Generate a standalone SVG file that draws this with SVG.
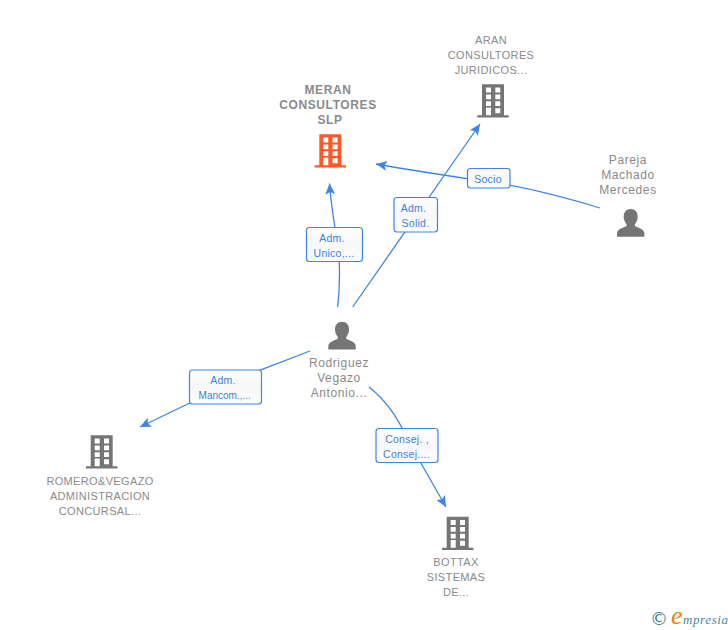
<svg xmlns="http://www.w3.org/2000/svg" width="728" height="630" viewBox="0 0 728 630">
<style>
text{font-family:"Liberation Sans",Arial,sans-serif}
.n{font-size:11px;fill:#8a8a8a;text-anchor:middle;letter-spacing:.35px}
.p{font-size:12px;fill:#8a8a8a;text-anchor:middle;letter-spacing:.6px}
.b{font-size:12px;font-weight:bold;letter-spacing:.6px}
.l{font-size:10.5px;fill:#3b7fe0;text-anchor:middle;letter-spacing:.25px}
.c{fill:none;stroke:#3f84e5;stroke-width:1.3}
.box{fill:url(#g);stroke:#3f84e5;stroke-width:1.2}
.gy{fill:#757575}.or{fill:#ff5a26}
</style>
<defs>
<linearGradient id="g" x1="0" y1="0" x2="0" y2="1"><stop offset="0" stop-color="#fff"/><stop offset=".5" stop-color="#f7f7f7"/><stop offset="1" stop-color="#fff"/></linearGradient>
<marker id="a" markerWidth="12" markerHeight="10" refX="11" refY="5" orient="auto" markerUnits="userSpaceOnUse"><path d="M0 0L11 5L0 10L2.500 5Z" fill="#3f84e5"/></marker>
<path id="bld" fill-rule="evenodd" d="M0 0H22V31H26.700V33.300H-4.700V31H0ZM4 3.300V8.300H9V3.300ZM13.300 3.300V8.300H18.300V3.300ZM4 10.300V15H9V10.300ZM13.300 10.300V15H18.300V10.300ZM4 17V21.700H9V17ZM13.300 17V21.700H18.300V17ZM4 23.300V31H9V23.300ZM13.300 24V29H18.300V24Z"/>
<path id="psn" d="M0 0C4.500 0 7 3.300 7 7.500C7 11 5.600 13.700 4.200 15.200V17C6 18.500 13.700 19.500 13.700 24.500V27.700H-13.700V24.500C-13.700 19.500 -6 18.500 -4.200 17V15.200C-5.600 13.700 -7 11 -7 7.500C-7 3.300 -4.500 0 0 0Z"/>
</defs>
<g id="connectors">
<path class="c" marker-end="url(#a)" d="M337.700 307C340 285 341 265 337 240C334 222 331 205 329.500 183.500"/>
<path class="c" marker-end="url(#a)" d="M352.700 307L480 124"/>
<path class="c" marker-end="url(#a)" d="M600 208C560 196 525 187 490 182C450 176 415 171 376 164"/>
<path class="c" marker-end="url(#a)" d="M310 351L250 374L140 427"/>
<path class="c" marker-end="url(#a)" d="M369 387C388 402 399 420 410 444L446 507"/>
</g>
<g id="label-unico"><rect class="box" x="306.500" y="227.500" width="56" height="34" rx="3"/><text class="l" x="332" y="241.500">Adm.</text><text class="l" x="334" y="256.500">Unico,...</text></g>
<g id="label-solid"><rect class="box" x="394" y="197.500" width="43.500" height="34.500" rx="3"/><text class="l" x="413.500" y="211.500">Adm.</text><text class="l" x="415.500" y="226.500">Solid.</text></g>
<g id="label-socio"><rect class="box" x="467.500" y="168.500" width="42.500" height="19.500" rx="3"/><text class="l" x="488" y="182.500">Socio</text></g>
<g id="label-mancom"><rect class="box" x="189.500" y="370" width="72" height="34" rx="3"/><text class="l" x="223" y="383.500">Adm.</text><text class="l" x="224.700" y="398.500" style="letter-spacing:0;font-size:10px">Mancom.,...</text></g>
<g id="label-consej"><rect class="box" x="376" y="428.500" width="62" height="34" rx="3"/><text class="l" x="407" y="442.500">Consej. ,</text><text class="l" x="406.500" y="457.500">Consej....</text></g>
<g id="node-meran"><use href="#bld" class="or" x="319.300" y="134.300"/><text class="n b" x="328" y="94">MERAN</text><text class="n b" x="328" y="109">CONSULTORES</text><text class="n b" x="330" y="124">SLP</text></g>
<g id="node-aran"><use href="#bld" class="gy" x="482" y="84.300"/><text class="n" x="491" y="44">ARAN</text><text class="n" x="491" y="59">CONSULTORES</text><text class="n" x="491" y="74">JURIDICOS...</text></g>
<g id="node-pareja"><use href="#psn" class="gy" x="630.700" y="209"/><text class="p" x="628" y="164">Pareja</text><text class="p" x="628" y="179">Machado</text><text class="p" x="628" y="194">Mercedes</text></g>
<g id="node-rodriguez"><use href="#psn" class="gy" x="342" y="321.700"/><text class="p" x="339" y="367">Rodriguez</text><text class="p" x="339" y="382">Vegazo</text><text class="p" x="339" y="397">Antonio...</text></g>
<g id="node-romero"><use href="#bld" class="gy" x="90.700" y="435.300"/><text class="n" x="100" y="485">ROMERO&amp;VEGAZO</text><text class="n" x="100" y="500">ADMINISTRACION</text><text class="n" x="100" y="515">CONCURSAL...</text></g>
<g id="node-bottax"><use href="#bld" class="gy" x="446.700" y="516.700"/><text class="n" x="456" y="566">BOTTAX</text><text class="n" x="456" y="581">SISTEMAS</text><text class="n" x="456" y="596">DE...</text></g>
<g id="logo"><text x="650" y="625" font-size="18" fill="#3f7f96" style="font-family:'DejaVu Sans',sans-serif">©</text><text x="671" y="624" font-size="26" fill="#f08010" font-style="italic" style="font-family:'Liberation Serif',serif">e</text><text x="683" y="624" font-size="13" fill="#4a8aa0" font-style="italic" letter-spacing=".6" style="font-family:'Liberation Serif',serif">mpresia</text></g>
</svg>
